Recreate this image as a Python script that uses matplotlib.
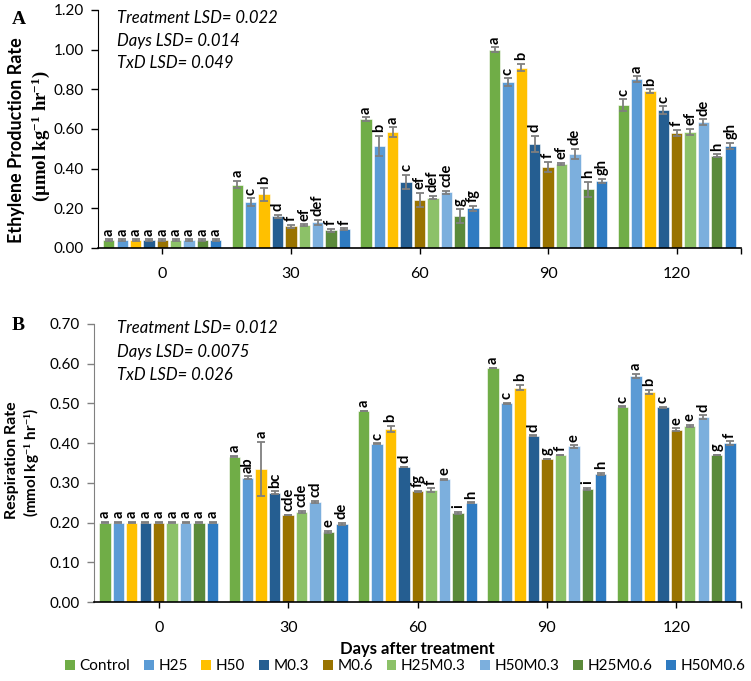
import numpy as np
import matplotlib.pyplot as plt
from matplotlib.patches import Patch

plt.rcParams['font.family'] = ['Lato', 'DejaVu Sans']
plt.rcParams['mathtext.fontset'] = 'custom'
plt.rcParams['mathtext.rm'] = 'Liberation Serif:bold'
plt.rcParams['mathtext.default'] = 'rm'

days = ['0', '30', '60', '90', '120']
treatments = ['Control', 'H25', 'H50', 'M0.3', 'M0.6', 'H25M0.3', 'H50M0.3', 'H25M0.6', 'H50M0.6']
colors = ['#70AD47', '#5B9BD5', '#FFC000', '#255E91', '#997300',
          '#8CC168', '#7CAFDD', '#5B8A3A', '#2F7BC1']

# ethylene production (one row per day, one column per treatment)
eth_mean = [
    [0.04, 0.04, 0.04, 0.04, 0.04, 0.04, 0.04, 0.04, 0.04],
    [0.32, 0.23, 0.27, 0.16, 0.11, 0.115, 0.13, 0.09, 0.095],
    [0.65, 0.515, 0.584, 0.333, 0.242, 0.254, 0.281, 0.16, 0.20],
    [1.00, 0.835, 0.91, 0.525, 0.41, 0.425, 0.475, 0.295, 0.34],
    [0.72, 0.85, 0.79, 0.695, 0.58, 0.585, 0.635, 0.465, 0.515],
]
eth_err = [
    [0.003, 0.003, 0.003, 0.003, 0.003, 0.003, 0.003, 0.003, 0.003],
    [0.02, 0.02, 0.035, 0.008, 0.008, 0.005, 0.013, 0.008, 0.005],
    [0.008, 0.05, 0.025, 0.035, 0.035, 0.008, 0.008, 0.035, 0.012],
    [0.012, 0.02, 0.02, 0.04, 0.025, 0.004, 0.025, 0.04, 0.01],
    [0.03, 0.015, 0.01, 0.02, 0.015, 0.015, 0.015, 0.008, 0.015],
]
eth_letters = [
    ['a'] * 9,
    ['a', 'c', 'b', 'd', 'f', 'ef', 'def', 'f', 'f'],
    ['a', 'b', 'a', 'c', 'ef', 'def', 'cde', 'g', 'fg'],
    ['a', 'c', 'b', 'd', 'f', 'ef', 'de', 'h', 'gh'],
    ['c', 'a', 'b', 'c', 'f', 'ef', 'de', 'h', 'gh'],
]

# respiration rate
resp_mean = [
    [0.20, 0.20, 0.20, 0.20, 0.20, 0.20, 0.20, 0.20, 0.20],
    [0.366, 0.313, 0.336, 0.275, 0.219, 0.227, 0.252, 0.176, 0.197],
    [0.481, 0.399, 0.435, 0.340, 0.279, 0.282, 0.309, 0.224, 0.250],
    [0.589, 0.500, 0.540, 0.419, 0.360, 0.370, 0.392, 0.284, 0.323],
    [0.492, 0.570, 0.529, 0.490, 0.434, 0.443, 0.466, 0.370, 0.400],
]
resp_err = [
    [0.002] * 9,
    [0.002, 0.004, 0.068, 0.004, 0.001, 0.003, 0.003, 0.003, 0.003],
    [0.001, 0.001, 0.008, 0.001, 0.001, 0.004, 0.001, 0.003, 0.001],
    [0.001, 0.001, 0.007, 0.001, 0.001, 0.001, 0.003, 0.003, 0.003],
    [0.001, 0.005, 0.006, 0.001, 0.003, 0.003, 0.004, 0.001, 0.005],
]
resp_letters = [
    ['a'] * 9,
    ['a', 'ab', 'a', 'bc', 'cde', 'cde', 'cd', 'e', 'de'],
    ['a', 'c', 'b', 'd', 'fg', 'f', 'e', 'i', 'h'],
    ['a', 'c', 'b', 'd', 'g', 'f', 'e', 'i', 'h'],
    ['c', 'a', 'b', 'c', 'e', 'e', 'd', 'g', 'f'],
]

eth_lsd = ['Treatment LSD= 0.022', 'Days LSD= 0.014', 'TxD LSD= 0.049']
resp_lsd = ['Treatment LSD= 0.012', 'Days LSD= 0.0075', 'TxD LSD= 0.026']

W, H = 751, 681


def draw(ax, mean, err, letters, ymax, step, lsd, lsd_y, spine_col, pad):
    mean = np.array(mean)
    err = np.array(err)
    x = np.arange(len(days))
    pitch = 0.104
    for j, t in enumerate(treatments):
        xs = x + (j - 4) * pitch
        ax.bar(xs, mean[:, j], width=0.088, color=colors[j], edgecolor='white',
               linewidth=0.4, label=t, zorder=2)
        ax.errorbar(xs, mean[:, j], yerr=err[:, j], fmt='none', ecolor='#7F7F7F',
                    elinewidth=1.3, capsize=3, capthick=1.3, zorder=3)
        for i in range(len(days)):
            ax.text(xs[i], mean[i, j] + err[i, j] + pad, letters[i][j], rotation=90,
                    ha='center', va='bottom', fontsize=10.5, fontweight='bold')
    ticks = np.arange(0, ymax + step / 2, step)
    ax.set_xlim(-0.5, 4.5)
    ax.set_ylim(0, ymax)
    ax.set_yticks(ticks)
    ax.set_yticklabels([f'{v:.2f}' for v in ticks], fontsize=11)
    ax.set_xticks([0, 1, 2, 3, 4, 4.5])
    ax.set_xticklabels(days + [''], fontsize=11.5)
    ax.tick_params(axis='x', length=4, width=1, pad=10)
    ax.tick_params(axis='y', length=5, width=1, color=spine_col, pad=5)
    for s in ['top', 'right']:
        ax.spines[s].set_visible(False)
    ax.spines['left'].set_color(spine_col)
    ax.spines['bottom'].set_color('black')
    ax.spines['bottom'].set_linewidth(1.2)
    for k, s in enumerate(lsd):
        fig.text(117 / W, 1 - lsd_y[k] / H, s, fontsize=12, style='italic', va='center')


fig = plt.figure(figsize=(7.51, 6.81), dpi=100)
axA = fig.add_axes([98 / W, 1 - 248 / H, 643 / W, 238 / H])
axB = fig.add_axes([94 / W, 1 - 602 / H, 647 / W, 278 / H])

draw(axA, eth_mean, eth_err, eth_letters, 1.2, 0.2, eth_lsd, [18, 41, 63], 'black', 0.018)
draw(axB, resp_mean, resp_err, resp_letters, 0.7, 0.1, resp_lsd, [328, 352, 375],
     '#808080', 0.009)

# y labels (two lines, second one in serif)
fig.text(17 / W, 1 - 140 / H, 'Ethylene Production Rate', rotation=90, ha='center',
         va='center', fontsize=13, fontweight='bold')
fig.text(41 / W, 1 - 136 / H, '(µmol kg$^{-1}$ hr$^{-1}$)', rotation=90, ha='center',
         va='center', fontsize=13.5, fontweight='bold', family='Liberation Serif')
fig.text(12 / W, 1 - 460 / H, 'Respiration Rate', rotation=90, ha='center',
         va='center', fontsize=11.5, fontweight='bold')
fig.text(31 / W, 1 - 462 / H, '(mmol kg$^{-1}$ hr$^{-1}$)', rotation=90, ha='center',
         va='center', fontsize=11, fontweight='bold', family='Lato')

fig.text(12 / W, 1 - 20 / H, 'A', fontsize=14, fontweight='bold', family='Liberation Serif',
         va='center')
fig.text(12 / W, 1 - 326 / H, 'B', fontsize=14, fontweight='bold', family='Liberation Serif',
         va='center')

fig.text(417 / W, 1 - 649 / H, 'Days after treatment', ha='center', va='center',
         fontsize=12, fontweight='bold')

handles = [Patch(facecolor=c, edgecolor='none') for c in colors]
fig.legend(handles, treatments, loc='center', bbox_to_anchor=(405 / W, 1 - 666 / H),
           ncol=9, frameon=False, fontsize=11, handlelength=0.65, handleheight=0.65,
           handletextpad=0.3, columnspacing=0.9, borderaxespad=0)

fig.savefig('out.png', dpi=100)
